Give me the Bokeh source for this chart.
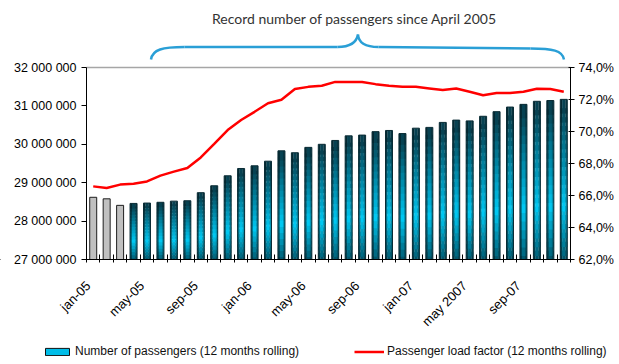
import numpy as np
from bokeh.plotting import figure
from bokeh.models import (Range1d, LinearAxis, FixedTicker, Legend, LegendItem, Label)
from bokeh.embed import file_html
from bokeh.resources import INLINE

# ---------------- data ----------------
months = ["jan-05", "feb-05", "mar-05", "apr-05", "may-05", "jun-05", "jul-05", "aug-05",
          "sep-05", "oct-05", "nov-05", "dec-05", "jan-06", "feb-06", "mar-06", "apr-06",
          "may-06", "jun-06", "jul-06", "aug-06", "sep-06", "oct-06", "nov-06", "dec-06",
          "jan-07", "feb-07", "mar-07", "apr-07", "may 2007", "jun-07", "jul-07", "aug-07",
          "sep-07", "oct-07", "nov-07", "dec-07"]
passengers = [28.62, 28.58, 28.41, 28.46, 28.47, 28.49, 28.52, 28.53, 28.74, 28.92,
              29.18, 29.37, 29.44, 29.56, 29.83, 29.78, 29.92, 30.00, 30.10, 30.22,
              30.24, 30.33, 30.36, 30.28, 30.42, 30.44, 30.57, 30.63, 30.61, 30.73,
              30.85, 30.97, 31.04, 31.12, 31.14, 31.17]  # millions
load_factor = [66.57, 66.47, 66.68, 66.74, 66.88, 67.24, 67.49, 67.72, 68.38, 69.22,
               70.09, 70.72, 71.23, 71.77, 71.98, 72.65, 72.79, 72.86, 73.10, 73.10,
               73.10, 72.96, 72.86, 72.79, 72.79, 72.69, 72.59, 72.69, 72.48, 72.27,
               72.40, 72.40, 72.48, 72.67, 72.65, 72.48]  # %
labeled_months = ["jan-05", "may-05", "sep-05", "jan-06", "may-06", "sep-06",
                  "jan-07", "may 2007", "sep-07"]
left_ticks = [27000000, 28000000, 29000000, 30000000, 31000000, 32000000]
right_ticks = [62, 64, 66, 68, 70, 72, 74]
n_gray = 3  # months before the record period
title_text = "Record number of passengers since April 2005"
legend_bars = "Number of passengers (12 months rolling)"
legend_line = "Passenger load factor (12 months rolling)"

# ---------------- geometry / style ----------------
W, H = 619, 364
FL, FR, FB = 86, 570, 259           # plot-area left/right/bottom in pixels
Y0, Y1 = 27e6, 32e6                 # left axis span
PX_Y1 = 67                          # pixel row of the top of the axes
px_per_unit_y = (FB - PX_Y1) / (Y1 - Y0)
R0, R1 = 62, 74
px_per_pct = (FB - PX_Y1) / (R1 - R0)
nx = len(months)
px_per_x = (FR - FL) / nx

def ypx(py):
    return Y0 + (FB - py) / px_per_unit_y

def rpx(py):
    return R0 + (FB - py) / px_per_pct

def xpx(px):
    return (px - FL) / px_per_x

FONT = "Liberation Sans"

p = figure(frame_width=W, frame_height=H, output_backend="svg", toolbar_location=None,
           x_range=Range1d(xpx(0), xpx(W)), y_range=Range1d(ypx(H), ypx(0)),
           min_border_left=0, min_border_right=0, min_border_top=0, min_border_bottom=0)
p.outline_line_color = None
p.xgrid.visible = False
p.ygrid.visible = False
p.background_fill_color = "white"
p.border_fill_color = "white"

xs = [i + 0.5 for i in range(nx)]
vals = [v * 1e6 for v in passengers]
bw = 0.52

# top border of the plot area
p.segment(x0=[0], y0=[Y1], x1=[nx], y1=[Y1], line_color="#a6a6a6", line_width=1.5)

# gray bars
p.vbar(x=xs[:n_gray], top=vals[:n_gray], bottom=Y0, width=bw,
       fill_color="#c0c0c0", line_color="#1e1e1e", line_width=1)

# gradient teal bars built from stacked slices
stops = [(0.0, (0, 78, 98)), (0.36, (0, 200, 242)), (0.7, (0, 128, 158)), (1.0, (8, 60, 74))]

def vcol(t):
    for (t0, c0), (t1, c1) in zip(stops[:-1], stops[1:]):
        if t <= t1:
            f = (t - t0) / (t1 - t0)
            return [c0[k] + (c1[k] - c0[k]) * f for k in range(3)]
    return list(stops[-1][1])

cols = [(0.0, 0.3, 0.6), (0.27, 0.75, 1.0), (0.72, 1.0, 0.78)]
N = 18
L, R, B, T, C = [], [], [], [], []
for i in range(n_gray, nx):
    v = vals[i]
    step = (v - Y0) / N
    for k in range(N):
        b = Y0 + step * k - (step * 0.6 if k > 0 else 0)
        t_ = Y0 + step * (k + 1)
        base = vcol((k + 0.5) / N)
        for f0, f1, m in cols:
            L.append(xs[i] - bw / 2 + bw * f0)
            R.append(xs[i] - bw / 2 + bw * f1)
            B.append(b)
            T.append(t_)
            c = [min(255, int(round(ch * m))) for ch in base]
            C.append("#%02x%02x%02x" % tuple(c))
p.quad(left=L, right=R, bottom=B, top=T, fill_color=C, line_color=None)
p.vbar(x=xs[n_gray:], top=vals[n_gray:], bottom=Y0, width=bw,
       fill_color=None, line_color="#0a2c35", line_width=1)

# legend proxy for bars (drawn far outside the visible range)
bar_proxy = p.vbar(x=[-50], top=[Y0 + 1], bottom=Y0, width=bw,
                   fill_color="#00bde8", line_color="#111111", line_width=1)

# right-axis series
p.extra_y_ranges = {"lf": Range1d(rpx(H), rpx(0))}
line_r = p.line(x=xs, y=load_factor, y_range_name="lf", line_color="#ff0000", line_width=2.5)

# axes (placed at fixed positions inside the full-canvas frame)
ly = p.yaxis[0]
ly.fixed_location = 0
ly.ticker = FixedTicker(ticks=left_ticks, minor_ticks=[])
ly.major_label_overrides = {t: f"{t:,}".replace(",", " ") for t in left_ticks}
ly.bounds = (Y0, Y1)
ly.axis_line_color = "black"
ly.major_tick_line_color = "black"
ly.major_tick_in = 0
ly.major_tick_out = 5
ly.minor_tick_line_color = None
ly.major_label_standoff = 5
ly.major_label_text_font = FONT
ly.major_label_text_font_size = "12.5px"
ly.major_label_text_color = "black"

ry = LinearAxis(y_range_name="lf", bounds=(R0, R1), fixed_location=nx)
ry.ticker = FixedTicker(ticks=right_ticks, minor_ticks=[])
ry.major_label_overrides = {t: f"{t:.1f}%".replace(".", ",") for t in right_ticks}
ry.axis_line_color = "black"
ry.major_tick_line_color = "black"
ry.major_tick_in = 2
ry.major_tick_out = 4
ry.minor_tick_line_color = None
ry.major_label_standoff = 4
ry.major_label_text_font = FONT
ry.major_label_text_font_size = "12.5px"
ry.major_label_text_color = "black"
p.add_layout(ry, "right")

xa = p.xaxis[0]
xa.fixed_location = Y0
xa.bounds = (0, nx)
label_shift = 5 / px_per_x   # labels sit slightly left of their bar, as in the source
lab_pos = [xs[months.index(m)] - label_shift for m in labeled_months]
xa.ticker = FixedTicker(ticks=lab_pos, minor_ticks=list(range(nx + 1)))
xa.major_label_overrides = {x: m for x, m in zip(lab_pos, labeled_months)}
xa.major_label_orientation = np.pi / 4
xa.axis_line_color = "black"
xa.major_tick_line_color = None
xa.major_tick_in = 0
xa.major_tick_out = 0
xa.minor_tick_line_color = "black"
xa.minor_tick_in = 5
xa.minor_tick_out = 3
xa.major_label_standoff = 21
xa.major_label_text_font = FONT
xa.major_label_text_font_size = "13px"
xa.major_label_text_color = "black"

# title annotation and brace
p.add_layout(Label(x=xpx(354), y=ypx(18), text=title_text, text_align="center",
                   text_baseline="middle", text_font="Lato", text_font_size="14px",
                   text_color="#333333"))
bc = "#2a9fd6"
bx0 = [xpx(150.5), xpx(337), xpx(357.5), xpx(530)]
by0 = [ypx(59), ypx(46.5), ypx(34), ypx(48)]
bx1 = [xpx(184), xpx(357.5), xpx(378), xpx(563.5)]
by1 = [ypx(46.5), ypx(34), ypx(46.5), ypx(59)]
cx0 = [xpx(152), xpx(350), xpx(358), xpx(552)]
cy0 = [ypx(49), ypx(46.5), ypx(42), ypx(48)]
cx1 = [xpx(162), xpx(356), xpx(364), xpx(562)]
cy1 = [ypx(46.5), ypx(42), ypx(46.5), ypx(50)]
p.bezier(x0=bx0, y0=by0, x1=bx1, y1=by1, cx0=cx0, cy0=cy0, cx1=cx1, cy1=cy1,
         line_color=bc, line_width=2.5)
p.segment(x0=[xpx(184), xpx(378)], y0=[ypx(46.5), ypx(46.5)],
          x1=[xpx(337), xpx(530)], y1=[ypx(46.5), ypx(48)], line_color=bc, line_width=2.5)

legend = Legend(items=[LegendItem(label=legend_bars, renderers=[bar_proxy]),
                       LegendItem(label=legend_line, renderers=[line_r])],
                orientation="horizontal", location=(42, 6),
                border_line_color=None, background_fill_alpha=0,
                label_text_font=FONT, label_text_font_size="12px",
                label_text_color="#111111", glyph_width=30, glyph_height=9,
                label_height=12, label_standoff=3, spacing=55, padding=0, margin=0)
p.add_layout(legend, "center")

open("out.html", "w").write(file_html(p, INLINE))
